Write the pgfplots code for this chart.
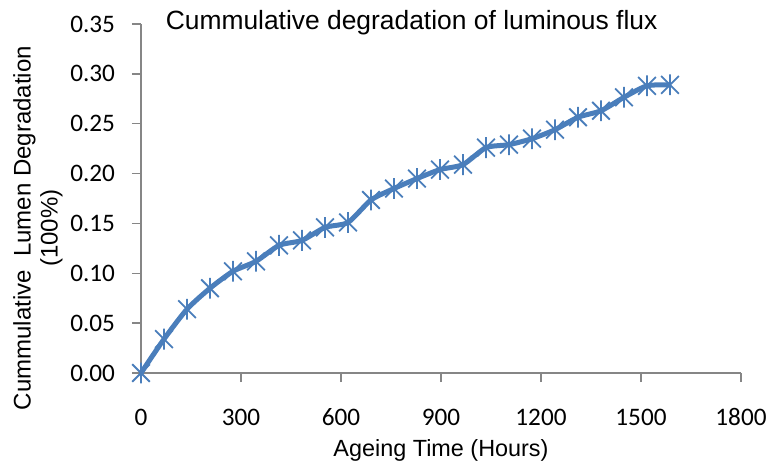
\documentclass[border=0pt]{standalone}
\usepackage{pgfplots}
\pgfplotsset{compat=1.18}
\usepackage{fontspec}
\setmainfont{Liberation Sans}
\newfontfamily\carl{Carlito}
\definecolor{exblue}{RGB}{74,126,187}
\definecolor{axgray}{RGB}{134,134,134}
\pgfdeclareplotmark{xstar}{%
  \pgfpathmoveto{\pgfqpoint{-0.85\pgfplotmarksize}{-0.85\pgfplotmarksize}}%
  \pgfpathlineto{\pgfqpoint{0.85\pgfplotmarksize}{0.85\pgfplotmarksize}}%
  \pgfpathmoveto{\pgfqpoint{-0.85\pgfplotmarksize}{0.85\pgfplotmarksize}}%
  \pgfpathlineto{\pgfqpoint{0.85\pgfplotmarksize}{-0.85\pgfplotmarksize}}%
  \pgfpathmoveto{\pgfqpoint{0pt}{-\pgfplotmarksize}}%
  \pgfpathlineto{\pgfqpoint{0pt}{\pgfplotmarksize}}%
  \pgfusepathqstroke}
\begin{document}
\begin{tikzpicture}
\path[use as bounding box] (-70.5pt,-44pt) rectangle (315pt,186.5pt);
\begin{axis}[
  at={(0,0)}, anchor=south west,
  scale only axis, width=300pt, height=174.5pt,
  xmin=0, xmax=1800, ymin=0, ymax=0.35,
  xtick={0,300,...,1800},
  ytick={0,0.05,...,0.351},
  axis x line*=bottom, axis y line*=left,
  axis line style={draw=axgray, line width=0.75pt, -},
  every tick/.style={draw=axgray, line width=0.75pt},
  tick align=outside, major tick length=4.5pt,
  /pgf/number format/assume math mode=true,
  tick label style={font=\carl\fontsize{12.6}{14}\selectfont},
  yticklabel style={/pgf/number format/fixed, /pgf/number format/fixed zerofill, /pgf/number format/precision=2, anchor=east, xshift=-5pt},
  xticklabel style={/pgf/number format/1000 sep={}, anchor=base, yshift=-21.6pt},
  every axis title shift=0pt,
  title={Cummulative degradation of luminous flux},
  title style={font=\fontsize{13.2}{15}\selectfont, at={(rel axis cs:0.451,1)}, anchor=base, yshift=-2.5pt},
  xlabel={Ageing Time (Hours)},
  xlabel style={font=\fontsize{11.7}{13}\selectfont, at={(rel axis cs:0.5,0)}, anchor=base, yshift=-41.5pt},
  clip=false,
]
\addplot[color=exblue, line width=2.5pt, smooth, tension=0.4,
  mark=xstar, mark size=5.2pt, mark options={line width=0.9pt, solid}]
  coordinates {
  (0,0) (69,0.034) (138,0.064) (207,0.085) (276,0.102) (345,0.112)
  (414,0.128) (483,0.133) (552,0.146) (621,0.151) (690,0.1735) (759,0.185)
  (828,0.195) (897,0.204) (966,0.209) (1035,0.226) (1104,0.229) (1173,0.235)
  (1242,0.244) (1311,0.2565) (1380,0.263) (1449,0.2765) (1518,0.288) (1587,0.289)
  };
\path (rel axis cs:0,0.415) ++(-51.5pt,0) node[rotate=90, align=center, font=\fontsize{12}{13.5}\selectfont] {Cummulative\ \ Lumen Degradation\\(100\%)};
\end{axis}
\end{tikzpicture}
\end{document}
